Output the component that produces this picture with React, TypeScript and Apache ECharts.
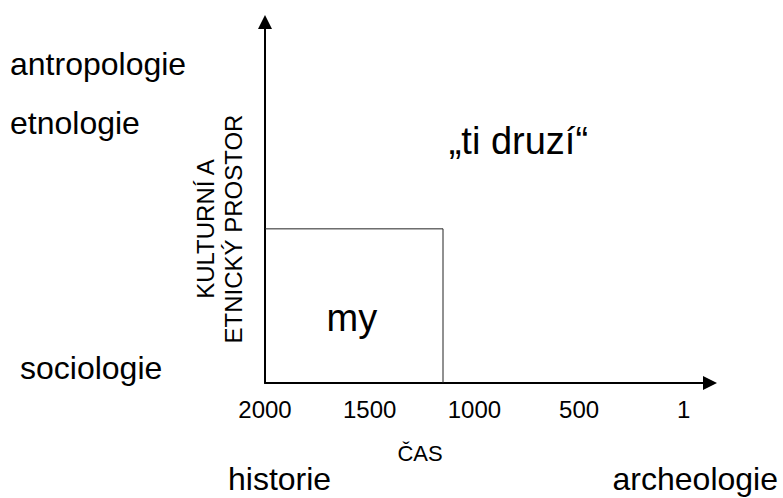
import React, { useEffect, useRef } from 'react';
import * as echarts from 'echarts';

// Axis data
const xTickValues = [2000, 1500, 1000, 500, 1];
const xMin = -125;
const xMax = 2000;
const yMin = 0;
const yMax = 100;

// "my" region outline (top edge then right edge)
const myRegionX = [2000, 1150, 1150];
const myRegionY = [42.7, 42.7, 0];

// Region labels
const regionNames = ['my', '„ti druzí“'];
const regionLabelX = [1585, 790];
const regionLabelY = [18, 67];
const regionFontSizes = [38, 38];

// Discipline labels
const disciplineNames = ['antropologie', 'etnologie', 'sociologie', 'historie', 'archeologie'];

const axisNameLines = ['KULTURNÍ A', 'ETNICKÝ PROSTOR'];
const xAxisName = 'ČAS';

const FONT = '"Liberation Sans", Arial, sans-serif';

export default function App() {
  const ref = useRef<HTMLDivElement>(null);
  useEffect(() => {
    document.body.style.margin = '0';
    const chart = echarts.init(ref.current!, null, { renderer: 'svg' });
    const textStyle = (size: number) => ({ fill: '#000', fontSize: size, fontFamily: FONT });
    const option: any = {
      animation: false,
      backgroundColor: '#fff',
      grid: { left: 265, right: 73, top: 22, bottom: 115 },
      xAxis: {
        type: 'value',
        min: xMin,
        max: xMax,
        inverse: true,
        axisLine: {
          show: true,
          onZero: false,
          lineStyle: { color: '#000', width: 2 },
          symbol: ['none', 'triangle'],
          symbolSize: [14, 14],
        },
        axisTick: { show: false },
        splitLine: { show: false },
        axisLabel: {
          customValues: xTickValues,
          formatter: (v: number) => String(v),
          fontSize: 24,
          color: '#000',
          fontFamily: FONT,
          margin: 14,
        },
      },
      yAxis: {
        type: 'value',
        min: yMin,
        max: yMax,
        axisLine: {
          show: true,
          onZero: false,
          lineStyle: { color: '#000', width: 2 },
          symbol: ['none', 'triangle'],
          symbolSize: [14, 14],
        },
        axisTick: { show: false },
        splitLine: { show: false },
        axisLabel: { show: false },
      },
      series: [
        {
          type: 'line',
          data: myRegionX.map((x, i) => [x, myRegionY[i]]),
          symbol: 'none',
          lineStyle: { color: '#222', width: 1 },
          z: 1,
        },
        {
          type: 'scatter',
          symbolSize: 1,
          itemStyle: { color: 'rgba(0,0,0,0)', opacity: 1 },
          data: regionNames.map((n, i) => ({
            name: n,
            value: [regionLabelX[i], regionLabelY[i]],
            label: {
              show: true,
              position: 'inside',
              formatter: n,
              fontSize: regionFontSizes[i],
              color: '#000',
              opacity: 1,
              textBorderWidth: 0,
              fontFamily: FONT,
            },
          })),
        },
      ],
      graphic: [
        { type: 'text', x: 10, y: 64, style: { ...textStyle(32), text: disciplineNames[0], textVerticalAlign: 'middle' } },
        { type: 'text', x: 10, y: 123, style: { ...textStyle(32), text: disciplineNames[1], textVerticalAlign: 'middle' } },
        { type: 'text', x: 20, y: 368, style: { ...textStyle(32), text: disciplineNames[2], textVerticalAlign: 'middle' } },
        { type: 'text', x: 228, y: 479, style: { ...textStyle(32), text: disciplineNames[3], textVerticalAlign: 'middle' } },
        { type: 'text', x: 778, y: 479, style: { ...textStyle(32), text: disciplineNames[4], textAlign: 'right', textVerticalAlign: 'middle' } },
        { type: 'text', x: 420, y: 453, style: { ...textStyle(22), text: xAxisName, textAlign: 'center', textVerticalAlign: 'middle' } },
        {
          type: 'text',
          x: 219,
          y: 229,
          rotation: Math.PI / 2,
          style: {
            ...textStyle(24),
            text: axisNameLines.join('\n'),
            lineHeight: 28,
            textAlign: 'center',
            textVerticalAlign: 'middle',
          },
        },
      ],
    };
    chart.setOption(option);
    return () => chart.dispose();
  }, []);
  return <div ref={ref} style={{ width: 783, height: 498 }} />;
}
